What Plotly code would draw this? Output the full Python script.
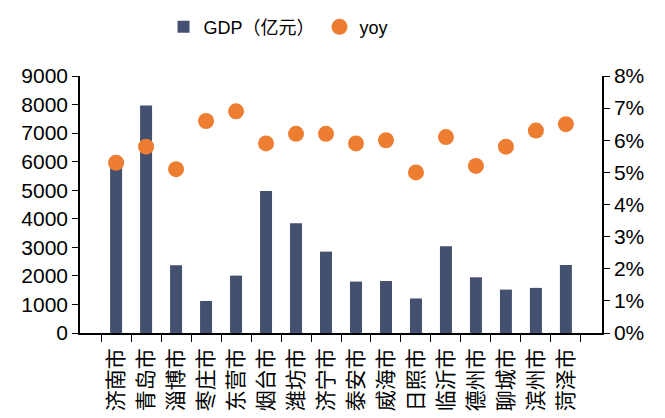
import plotly.graph_objects as go

# cities and values
cities = ["济南市", "青岛市", "淄博市", "枣庄市", "东营市", "烟台市", "潍坊市", "济宁市",
          "泰安市", "威海市", "日照市", "临沂市", "德州市", "聊城市", "滨州市", "菏泽市"]
gdp = [5950, 7970, 2370, 1120, 2010, 4970, 3840, 2850,
       1800, 1820, 1210, 3040, 1950, 1520, 1580, 2380]
yoy = [5.3, 5.8, 5.1, 6.6, 6.9, 5.9, 6.2, 6.2,
       5.9, 6.0, 5.0, 6.1, 5.2, 5.8, 6.3, 6.5]

font_family = "Liberation Sans, Arial, Noto Sans CJK SC, sans-serif"

fig = go.Figure()
fig.add_trace(go.Bar(x=cities, y=gdp, name="GDP（亿元）",
                     marker=dict(color="#44506F", line=dict(width=0))))
fig.add_trace(go.Scatter(x=cities, y=[v / 100 for v in yoy], name="yoy", yaxis="y2",
                         mode="markers",
                         marker=dict(color="#ED7D31", size=16)))

# page body adds an 8px offset, margins compensate for it
fig.update_layout(
    width=665, height=418,
    margin=dict(l=72, r=71, t=68, b=93, autoexpand=False),
    paper_bgcolor="white", plot_bgcolor="white",
    font=dict(family=font_family, size=21, color="black"),
    bargap=0.6,
    showlegend=True,
    legend=dict(orientation="h", x=0.16, xanchor="left", y=1.19, yanchor="middle",
                font=dict(size=18), itemwidth=30, traceorder="normal"),
    xaxis=dict(showline=True, linecolor="black", linewidth=1.5, automargin=False,
               ticks="outside", tickson="boundaries", ticklen=7, tickcolor="black",
               tickangle=-90, showgrid=False, ticklabelstandoff=5,
               tickfont=dict(family="Noto Sans CJK SC", size=21)),
    yaxis=dict(range=[0, 9000], dtick=1000, showline=True, linecolor="black", linewidth=1.5,
               ticks="outside", ticklen=6, tickcolor="black", showgrid=False,
               zeroline=False, automargin=False, tickfont=dict(size=21)),
    yaxis2=dict(range=[0, 0.08], dtick=0.01, tickformat=".0%", overlaying="y", side="right",
                showline=True, linecolor="black", linewidth=1.5,
                ticks="outside", ticklen=6, tickcolor="black", showgrid=False,
                zeroline=False, automargin=False, tickfont=dict(size=21)),
)

fig.write_html("out.html")
